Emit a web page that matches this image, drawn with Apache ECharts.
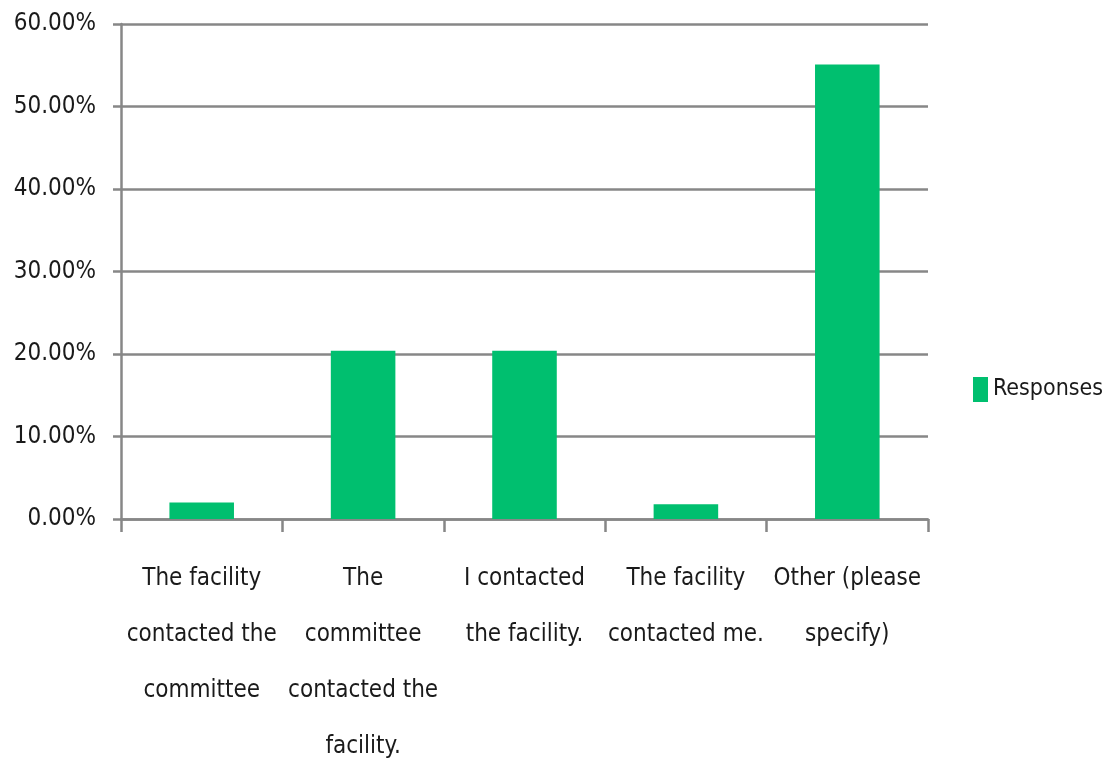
<!DOCTYPE html>
<html>
<head>
<meta charset="utf-8">
<script src="https://cdn.jsdelivr.net/npm/echarts@6/dist/echarts.min.js"></script>
<style>
html,body{margin:0;padding:0;background:#fff;}
#chart{width:1109px;height:762px;}
</style>
</head>
<body>
<div id="chart"></div>
<script>
const categories = [
  "The facility\ncontacted the\ncommittee",
  "The\ncommittee\ncontacted the\nfacility.",
  "I contacted\nthe facility.",
  "The facility\ncontacted me.",
  "Other (please\nspecify)"
];
const responses = [2.0, 20.4, 20.4, 1.8, 55.1];
const seriesName = "Responses";
const yTicks = { min: 0, max: 60, interval: 10 };

const FONT = "'Liberation Sans Narrow', 'DejaVu Sans Condensed', 'Liberation Sans', sans-serif";
const GREY = "#878787";
const chart = echarts.init(document.getElementById('chart'));
chart.setOption({
  animation: false,
  backgroundColor: '#ffffff',
  grid: { left: 121, right: 181, top: 24, bottom: 243, containLabel: false, outerBoundsMode: 'none' },
  legend: {
    data: [seriesName],
    left: 968, top: 372,
    itemWidth: 15, itemHeight: 25, itemGap: 10,
    icon: 'rect',
    textStyle: { fontFamily: FONT, fontSize: 23, color: '#1a1a1a' }
  },
  xAxis: {
    type: 'category',
    data: categories,
    boundaryGap: true,
    axisLine: { lineStyle: { color: GREY, width: 2.5 } },
    axisTick: { show: true, interval: 0, length: 13, lineStyle: { color: GREY, width: 2.5 } },
    axisLabel: {
      interval: 0, margin: 32,
      fontFamily: FONT, fontSize: 24, lineHeight: 56, color: '#1a1a1a', align: 'center'
    }
  },
  yAxis: {
    type: 'value',
    min: yTicks.min, max: yTicks.max, interval: yTicks.interval,
    axisLine: { show: true, lineStyle: { color: GREY, width: 2.5 } },
    axisTick: { show: true, length: 8, lineStyle: { color: GREY, width: 2.5 } },
    splitLine: { show: true, lineStyle: { color: GREY, width: 2.5 } },
    axisLabel: {
      margin: 25, fontFamily: FONT, fontSize: 24, color: '#1a1a1a',
      formatter: v => v.toFixed(2) + '%'
    }
  },
  series: [{
    name: seriesName,
    type: 'bar',
    data: responses,
    barWidth: '40%',
    itemStyle: { color: '#00BF6F' }
  }]
});
</script>
</body>
</html>
